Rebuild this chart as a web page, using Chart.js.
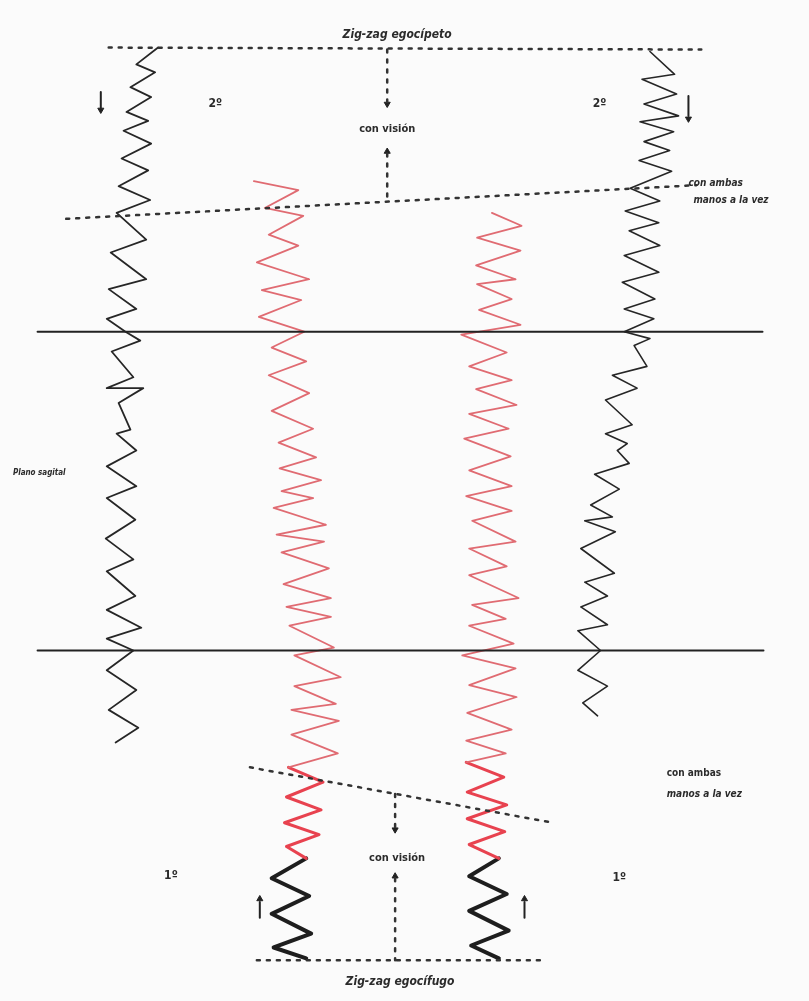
<!DOCTYPE html>
<html>
<head>
<meta charset="utf-8">
<script src="https://cdn.jsdelivr.net/npm/chart.js@4/dist/chart.umd.min.js"></script>
<style>
  body { margin: 0; background: #fbfbfb; }
  #wrap { width: 809px; height: 1001px; position: relative; }
</style>
</head>
<body>
<div id="wrap"><canvas id="zigzag"></canvas></div>
<script>
// strokes, [x, y] in page units (y grows downward)
const leftBlack = [[155,43],[133,60],[152,68],[127,83],[148,93],[123,108],[145,117],[120,127],[148,140],[118,155],[145,167],[115,183],[147,197],[113,210],[143,237],[107,250],[143,277],[105,287],[133,307],[103,317],[122,330],[137,339],[108,350],[130,376],[103,387],[140,387],[115,402],[127,429],[113,433],[133,450],[103,466],[133,486],[103,498],[132,520],[102,539],[130,560],[103,572],[132,597],[103,611],[138,629],[103,640],[130,652],[103,672],[133,692],[105,712],[135,730],[112,745]];
const rightBlack = [[653,47],[678,70],[645,75],[680,90],[647,100],[682,112],[643,118],[677,128],[647,138],[673,147],[642,157],[675,168],[633,185],[663,198],[628,208],[662,220],[632,228],[663,243],[627,253],[662,270],[625,280],[658,297],[627,307],[657,317],[627,330],[653,337],[637,344],[650,365],[615,374],[640,387],[608,399],[635,424],[608,433],[630,443],[620,450],[632,463],[597,474],[622,489],[593,505],[615,517],[587,521],[618,532],[583,549],[617,574],[587,583],[610,597],[583,608],[610,626],[580,632],[603,652],[580,672],[610,688],[585,705],[600,718]];
const leftRed = [[252,178],[297,187],[263,205],[302,213],[267,232],[297,243],[255,260],[308,277],[260,288],[300,298],[257,315],[303,330],[270,346],[305,360],[267,374],[308,392],[270,410],[312,428],[277,442],[315,457],[278,468],[320,480],[280,491],[312,498],[272,508],[325,525],[275,535],[323,542],[280,553],[328,569],[282,585],[330,599],[285,608],[330,618],[288,627],[333,649],[293,657],[340,679],[293,688],[335,706],[290,712],[338,723],[290,737],[337,756],[287,770]];
const leftRedLow = [[287,770],[322,785],[285,800],[320,813],[283,826],[318,838],[285,850],[305,862]];
const rightRed = [[493,210],[523,223],[478,235],[522,248],[477,263],[517,277],[478,282],[513,297],[480,308],[522,323],[462,333],[508,351],[470,365],[513,379],[477,388],[518,404],[470,413],[510,428],[465,438],[512,456],[470,470],[513,486],[467,496],[513,511],[473,521],[517,542],[470,549],[508,567],[470,576],[520,599],[473,606],[507,620],[470,627],[515,645],[463,657],[517,670],[470,687],[518,699],[468,715],[513,732],[467,743],[507,756],[467,765]];
const rightRedLow = [[467,765],[505,780],[468,795],[508,808],[468,822],[506,835],[470,848],[500,862]];
const leftW = [[305,862],[270,882],[308,900],[270,918],[310,938],[272,952],[305,963]];
const rightW = [[500,862],[470,880],[508,898],[470,915],[510,935],[472,950],[500,963]];

const planeLines = [[[33,330],[767,330]], [[33,652],[768,652]]];
const dottedLines = [
  [[105,43],[705,45]],
  [[62,216],[700,182]],
  [[387,45],[387,98]],
  [[387,150],[387,199]],
  [[248,770],[555,826]],
  [[395,797],[395,831]],
  [[395,882],[395,965]],
  [[255,965],[545,965]]
];
// arrows: shaft, head position, head rotation
const arrows = [
  {shaft: [[97,88],[97,104]], head: [97,106], rot: 180},
  {shaft: [[692,92],[692,112]], head: [692,115], rot: 180},
  {shaft: [[258,922],[258,906]], head: [258,903], rot: 0},
  {shaft: [[526,922],[526,906]], head: [526,903], rot: 0},
  {shaft: [[387,98],[387,98]], head: [387,100], rot: 180},
  {shaft: [[387,150],[387,150]], head: [387,148], rot: 0},
  {shaft: [[395,831],[395,831]], head: [395,833], rot: 180},
  {shaft: [[395,882],[395,882]], head: [395,880], rot: 0}
];
const labels = [
  {t: 'Zig-zag egocípeto', x: 397, y: 30, size: 12, italic: true, align: 'center'},
  {t: '2º', x: 213, y: 100, size: 12, align: 'center'},
  {t: '2º', x: 602, y: 100, size: 12, align: 'center'},
  {t: 'con visión', x: 387, y: 125, size: 11, align: 'center'},
  {t: 'con ambas', x: 692, y: 180, size: 10, italic: true, align: 'left'},
  {t: 'manos a la vez', x: 697, y: 197, size: 10, italic: true, align: 'left'},
  {t: 'Plano sagital', x: 8, y: 473, size: 8, italic: true, align: 'left'},
  {t: 'con ambas', x: 670, y: 776, size: 10, align: 'left'},
  {t: 'manos a la vez', x: 670, y: 797, size: 10, italic: true, align: 'left'},
  {t: 'con visión', x: 397, y: 862, size: 11, align: 'center'},
  {t: '1º', x: 168, y: 880, size: 12, align: 'center'},
  {t: '1º', x: 622, y: 882, size: 12, align: 'center'},
  {t: 'Zig-zag egocífugo', x: 400, y: 987, size: 12, italic: true, align: 'center'}
];

const pts = arr => arr.map(p => ({x: p[0], y: p[1]}));
function stroke(arr, color, width, dash) {
  return {data: pts(arr), showLine: true, borderColor: color, borderWidth: width,
    borderDash: dash || [], pointRadius: 0, borderJoinStyle: 'round', borderCapStyle: 'round', tension: 0};
}

const datasets = [];
planeLines.forEach(l => datasets.push(stroke(l, '#222', 2)));
dottedLines.forEach(l => datasets.push(stroke(l, '#333', 2.5, [3, 7])));
datasets.push(stroke(leftRed, '#e06b72', 1.8));
datasets.push(stroke(rightRed, '#e06b72', 1.8));
datasets.push(stroke(leftRedLow, '#e8424f', 3));
datasets.push(stroke(rightRedLow, '#e8424f', 3));
datasets.push(stroke(leftBlack, '#262626', 1.8));
datasets.push(stroke(rightBlack, '#262626', 1.6));
datasets.push(stroke(leftW, '#1e1e1e', 4));
datasets.push(stroke(rightW, '#1e1e1e', 4));
arrows.forEach(a => {
  datasets.push(stroke(a.shaft, '#222', 2));
  datasets.push({data: pts([a.head]), showLine: false, pointStyle: 'triangle', pointRadius: 3.5,
    rotation: a.rot, backgroundColor: '#222', borderColor: '#222', borderWidth: 1});
});

const textPlugin = {
  id: 'texts',
  afterDatasetsDraw(chart) {
    const {ctx, scales: {x, y}} = chart;
    ctx.save();
    ctx.fillStyle = '#2b2b2b';
    ctx.textBaseline = 'middle';
    labels.forEach(l => {
      ctx.font = (l.italic ? 'italic ' : '') + 'bold ' + l.size + 'px "Liberation Sans Narrow", "DejaVu Sans Condensed", sans-serif';
      ctx.textAlign = l.align;
      ctx.fillText(l.t, x.getPixelForValue(l.x), y.getPixelForValue(l.y));
    });
    ctx.restore();
  }
};

new Chart(document.getElementById('zigzag'), {
  type: 'scatter',
  data: {datasets},
  options: {
    responsive: true,
    maintainAspectRatio: false,
    animation: false,
    layout: {padding: 0},
    plugins: {legend: {display: false}, tooltip: {enabled: false}},
    scales: {
      x: {type: 'linear', min: 0, max: 809, display: false},
      y: {type: 'linear', min: 0, max: 1001, reverse: true, display: false}
    }
  },
  plugins: [textPlugin]
});
</script>
</body>
</html>
